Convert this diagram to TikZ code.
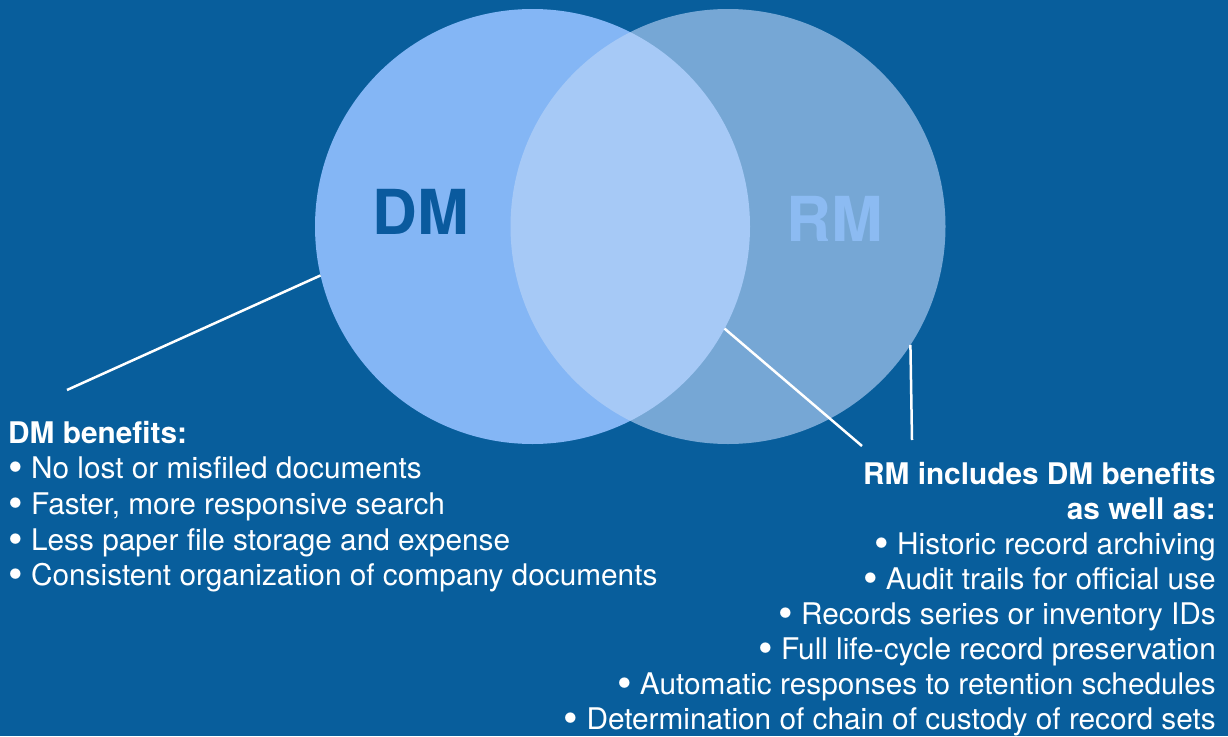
\documentclass[tikz,border=0pt]{standalone}
\usepackage{fontspec}
\setmainfont{TeX Gyre Heros}
\definecolor{bgblue}{HTML}{085E9C}
\definecolor{dmfill}{HTML}{84B6F5}
\definecolor{rmfill}{HTML}{BBD5F8}
\definecolor{dmtext}{HTML}{0A5A9E}
\definecolor{rmtext}{HTML}{8CBBF2}
\newcommand\bul{\raisebox{-0.1em}[0pt][0pt]{\scalebox{1.4}{•}}}
\begin{document}
\begin{tikzpicture}[x=1pt,y=-1pt,
  venn/.style={circle,minimum size=435pt,inner sep=0pt,outer sep=0pt},
  biglabel/.style={inner sep=0pt,font=\fontsize{62}{62}\selectfont\bfseries},
  item/.style={text=white,inner sep=0pt,font=\fontsize{29.8}{33}\selectfont},
  head/.style={item,font=\fontsize{29.8}{33}\selectfont\bfseries},
  leader/.style={white,line width=2.5pt}]
\fill[bgblue] (0,0) rectangle (1228,736);
\useasboundingbox (0,0) rectangle (1228,736);
\node[venn,fill=dmfill] (dm) at (532.5,226.5) {};
\node[venn,fill=rmfill,fill opacity=0.62] (rm) at (728,226.5) {};
\node[biglabel,text=dmtext] (dmlabel) at (421,212) {DM};
\node[biglabel,text=rmtext] (rmlabel) at (835,219) {RM};
\node[head,anchor=base west] (dmhead) at (8,443) {DM benefits:};
\foreach \txt [count=\i] in {No lost or misfiled documents,
    {Faster, more responsive search},
    Less paper file storage and expense,
    Consistent organization of company documents}
  \node[item,anchor=base west] (dm\i) at (8,443+35.7*\i) {\bul{} \txt};
\node[head,anchor=base east] (rmhead) at (1216,484) {RM includes DM benefits};
\node[head,anchor=base east] (rmhead2) at (1216,519) {as well as:};
\foreach \txt [count=\i] in {Historic record archiving,
    Audit trails for official use,
    Records series or inventory IDs,
    Full life-cycle record preservation,
    Automatic responses to retention schedules,
    Determination of chain of custody of record sets}
  \node[item,anchor=base east] (rm\i) at (1216,520+34.85*\i) {\bul{} \txt};
\coordinate (dmend) at (67,390);
\coordinate (rmend) at (862,446);
\coordinate (rmend2) at (912,440);
\draw[leader] (dm.193.7) -- (dmend);
\draw[leader] (dm.-28.6) -- (rmend);
\draw[leader] (rm.-33.8) -- (rmend2);
\end{tikzpicture}
\end{document}
